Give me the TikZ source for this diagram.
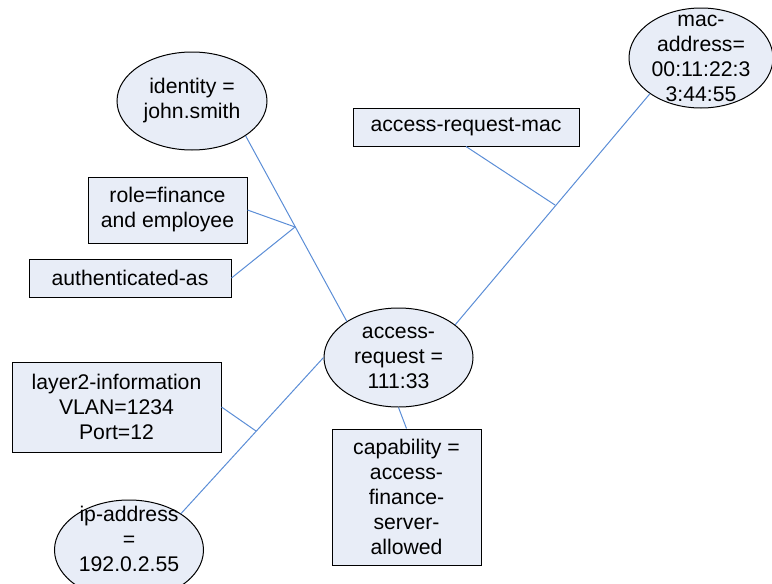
\documentclass[tikz,border=0pt]{standalone}
\usepackage{fontspec}
\setmainfont{Liberation Sans}
\usepackage{tikz}
\usetikzlibrary{shapes.geometric}

\definecolor{attrfill}{RGB}{232,237,247}
\definecolor{linkblue}{RGB}{91,141,214}

\tikzset{
  ell/.style={ellipse, draw, fill=attrfill, inner sep=0pt, align=center},
  attr/.style={rectangle, draw, fill=attrfill, inner sep=0pt, align=center},
  link/.style={draw=linkblue, line width=0.5pt}
}

\begin{document}
\begin{tikzpicture}[x=0.5pt, y=-0.5pt, font=\fontsize{10.6}{12.5}\selectfont, line width=0.5pt]
\useasboundingbox (0,0) rectangle (772,584);

\node [ell, minimum width=75pt, minimum height=49pt] (idn) at (192,101) {identity =\\john.smith};
\node [attr, minimum width=79.5pt, minimum height=33pt] (role) at (167.5,210) {role=finance\\and employee};
\node [attr, minimum width=101pt, minimum height=19pt] (auth) at (130,278) {authenticated-as};
\node [ell, minimum width=72pt, minimum height=50pt] (mac) at (701,58) {};
\node [align=center, inner sep=0pt] (mactext) at (mac) {mac-\\address=\\00:11:22:3\\3:44:55};
\node [attr, minimum width=113pt, minimum height=19pt] (arm) at (466,127) {access-request-mac};
\node [ell, minimum width=74.5pt, minimum height=49.5pt] (req) at (398.5,357.5) {access-\\request =\\111:33};
\node [attr, minimum width=104.5pt, minimum height=45pt] (l2) at (116.5,407) {layer2-information\\VLAN=1234\\Port=12};
\node [attr, minimum width=74.5pt, minimum height=68pt] (cap) at (406.5,497) {capability =\\access-\\finance-\\server-\\allowed};
\node [ell, minimum width=74.5pt, minimum height=50pt] (ip) at (129,550) {};
\node [align=center, inner sep=0pt] (iptext) at (129,539) {ip-address\\=\\192.0.2.55};

\coordinate (j1) at (295,227);
\coordinate (j2) at (555,205);
\coordinate (j3) at (256,431);

\draw[link] (idn.-33) -- (req.145);
\draw[link] (role.east) -- (j1);
\draw[link] (auth.east) -- (j1);
\draw[link] (mac.215) -- (req.30);
\draw[link] (arm.south) -- (j2);
\draw[link] (ip.35) -- (req.west);
\draw[link] (l2.east) -- (j3);
\draw[link] (req.south) -- (cap.north);
\end{tikzpicture}
\end{document}
